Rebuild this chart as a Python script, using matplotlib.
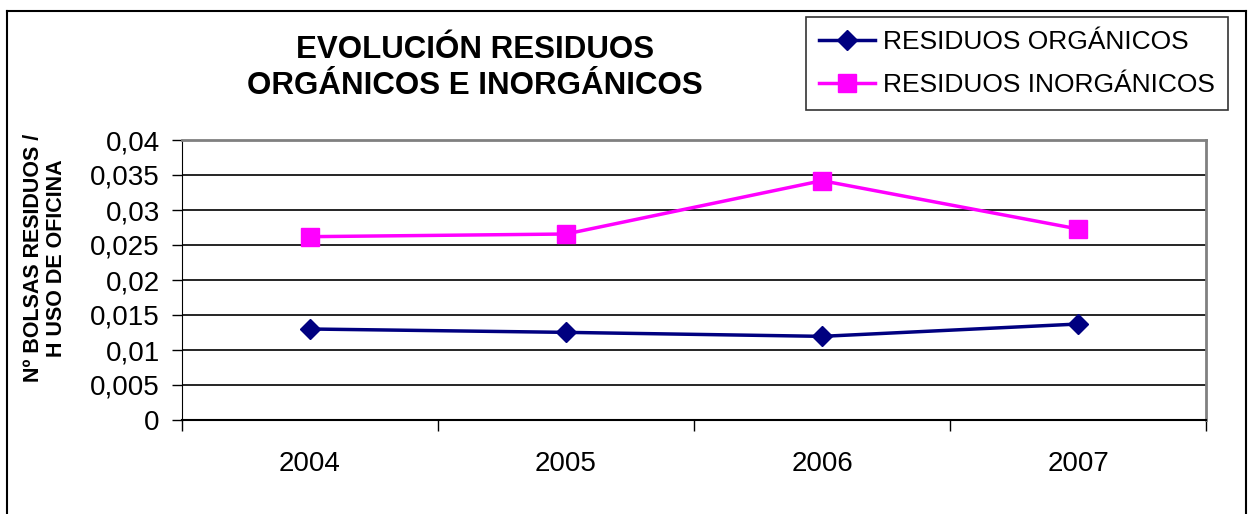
import matplotlib
matplotlib.use("Agg")
import matplotlib.pyplot as plt
from matplotlib.lines import Line2D
import numpy as np

plt.rcParams['font.family'] = ['Liberation Sans', 'DejaVu Sans']

years = ["2004", "2005", "2006", "2007"]
organicos = [0.0130, 0.01252, 0.01195, 0.01371]
inorganicos = [0.02619, 0.02657, 0.03419, 0.02729]
yticks = [0, 0.005, 0.01, 0.015, 0.02, 0.025, 0.03, 0.035, 0.04]
ytick_labels = ["0", "0,005", "0,01", "0,015", "0,02", "0,025", "0,03", "0,035", "0,04"]

W, H = 1250, 514
fig = plt.figure(figsize=(W / 100, H / 100), dpi=100)
ax = fig.add_axes([182 / W, 1 - 420 / H, (1206 - 182) / W, (420 - 140) / H])

x = np.arange(len(years))
ax.plot(x, organicos, color='#000080', lw=2.5, marker='D', ms=10, label='RESIDUOS ORGÁNICOS', zorder=3)
ax.plot(x, inorganicos, color='#FF00FF', lw=2.5, marker='s', ms=13, label='RESIDUOS INORGÁNICOS', zorder=3)

ax.set_xlim(-0.5, len(years) - 0.5)
ax.set_ylim(0, 0.04)
ax.set_yticks(yticks)
ax.set_yticklabels(ytick_labels, fontsize=20)
ax.yaxis.grid(True, color='black', lw=1.2)
ax.set_axisbelow(True)

ax.set_xticks(x)
ax.set_xticklabels(years, fontsize=20)
ax.tick_params(axis='x', which='major', length=0, pad=22)
ax.set_xticks(np.arange(-0.5, len(years), 1.0), minor=True)
ax.tick_params(axis='x', which='minor', length=8, width=1, color='black', direction='out')
ax.tick_params(axis='y', length=7, width=1, direction='out', pad=9)

for s in ['top', 'right']:
    ax.spines[s].set_color('#808080')
    ax.spines[s].set_linewidth(2)
ax.spines['left'].set_color('black')
ax.spines['bottom'].set_color('black')
ax.spines['bottom'].set_linewidth(1.5)

fig.text(45 / W, 1 - 258 / H, "Nº BOLSAS RESIDUOS /\nH USO DE OFICINA", rotation=90,
         ha='center', va='center', fontsize=15.5, fontweight='bold', linespacing=1.1)

fig.text(475 / W, 1 - 68 / H, "EVOLUCIÓN RESIDUOS\nORGÁNICOS E INORGÁNICOS", ha='center', va='center',
         fontsize=22.5, fontweight='bold', linespacing=1.3)

leg = fig.legend(loc='upper left', bbox_to_anchor=(806 / W, 1 - 17 / H), fontsize=19,
                 frameon=True, fancybox=False, edgecolor='black', handlelength=2.1,
                 handletextpad=0.3, borderpad=0.5, labelspacing=0.72, borderaxespad=0)
leg.get_frame().set_linewidth(1.2)

# outer chart border
fig.add_artist(Line2D([7 / W, 7 / W], [0, 1 - 11 / H], transform=fig.transFigure, color='black', lw=1.5))
fig.add_artist(Line2D([7 / W, 1246 / W], [1 - 11 / H, 1 - 11 / H], transform=fig.transFigure, color='black', lw=1.5))
fig.add_artist(Line2D([1246 / W, 1246 / W], [0, 1 - 11 / H], transform=fig.transFigure, color='black', lw=1.5))

fig.savefig("out.png", dpi=100)
